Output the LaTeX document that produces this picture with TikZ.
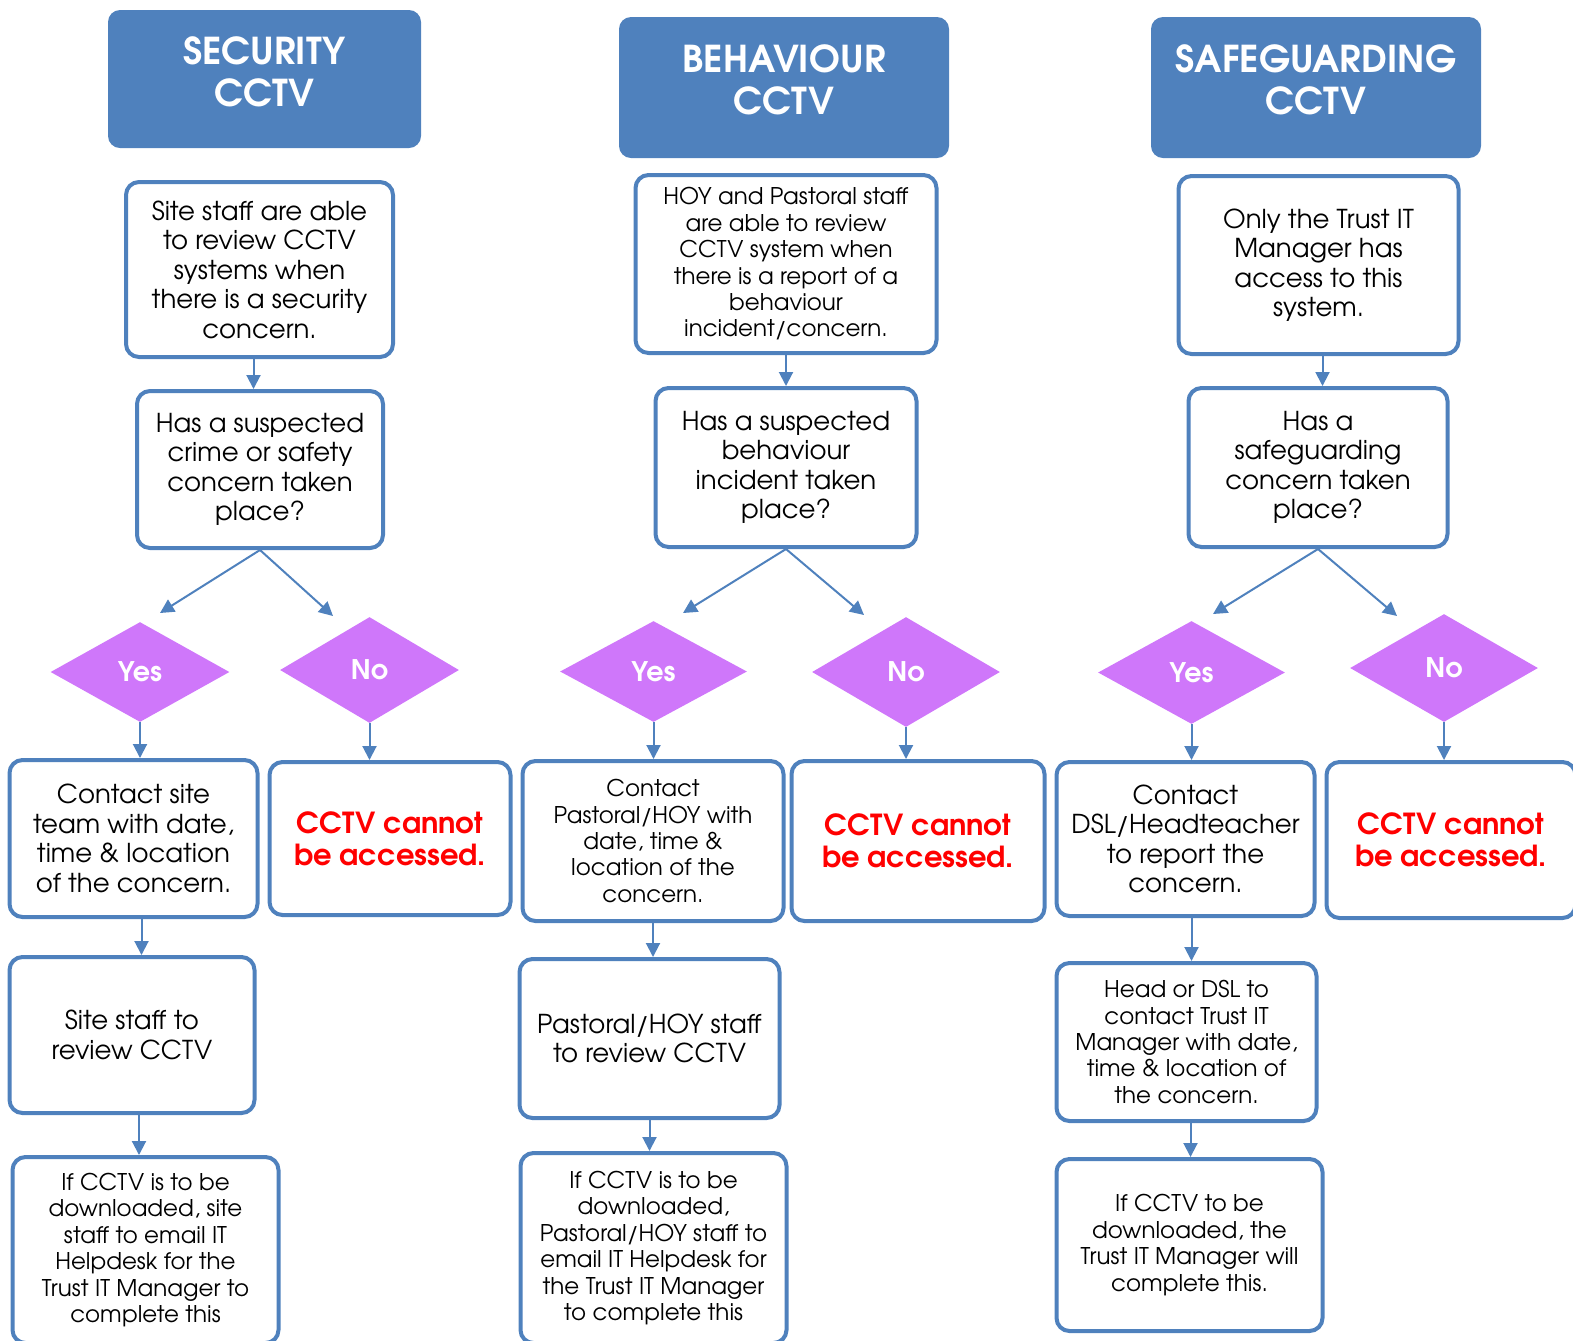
\documentclass[tikz,border=0pt]{standalone}
\usepackage{fontspec}
\setmainfont{TeX Gyre Adventor}
\usepackage{tikz}
\usetikzlibrary{arrows.meta,shapes.geometric,positioning}

\definecolor{hdblue}{RGB}{79,129,189}
\definecolor{ynpurple}{RGB}{207,119,250}
\newcommand\headfont{\fontsize{18.5}{21}\selectfont\bfseries}
\newcommand\boxfont{\fontsize{13}{14.75}\selectfont}
\newcommand\smallboxfont{\fontsize{11.5}{13.2}\selectfont}
\newcommand\ynfont{\fontsize{13.5}{15}\selectfont\bfseries}
\newcommand\stopfont{\fontsize{14.5}{16}\selectfont\bfseries}

\begin{document}
\begin{tikzpicture}[x=0.5pt, y=-0.5pt, >={Triangle[length=7pt,width=7pt]},
    head/.style={rectangle, fill=hdblue, rounded corners=6pt, text=white, font=\headfont, align=center, text depth=7.5pt},
    block/.style={rectangle, draw=hdblue, line width=2pt, fill=white, rounded corners=6.5pt, align=center, font=\boxfont, inner sep=2pt},
    small/.style={font=\smallboxfont},
    stop/.style={text=red, font=\stopfont},
    choice/.style={diamond, fill=ynpurple, text=white, font=\ynfont, inner sep=0pt},
    line/.style={draw=hdblue, line width=1pt, ->}]

    \useasboundingbox (0,0) rectangle (1573,1340);

    % security column
    \node [head, minimum width=156.5pt, minimum height=69pt] (sechd) at (264.5,79) {SECURITY\\CCTV};
    \node [block, minimum width=133.5pt, minimum height=87.5pt] (secrev) at (259.5,269.5) {Site staff are able\\to review CCTV\\systems when\\there is a security\\concern.};
    \node [block, minimum width=123pt, minimum height=78.5pt] (secq) at (260,469.5) {Has a suspected\\crime or safety\\concern taken\\place?};
    \node [choice, minimum width=89.5pt, minimum height=50pt] (secyes) at (140,672) {Yes};
    \node [choice, minimum width=89.5pt, minimum height=53pt] (secno) at (369.5,670) {No};
    \node [block, minimum width=124pt, minimum height=78.5pt] (seccall) at (133.5,838.5) {Contact site\\team with date,\\time \& location\\of the concern.};
    \node [block, stop, minimum width=120.5pt, minimum height=76.5pt] (secnot) at (390,838.5) {CCTV cannot\\be accessed.};
    \node [block, minimum width=122.5pt, minimum height=78pt] (secview) at (132,1035) {Site staff to\\review CCTV};
    \node [block, small, minimum width=133pt, minimum height=93pt] (secdl) at (145.5,1250) {If CCTV is to be\\downloaded, site\\staff to email IT\\Helpdesk for the\\Trust IT Manager to\\complete this};
    \coordinate (secyt) at (160,613);
    \coordinate (secnt) at (333,616);

    % behaviour column
    \node [head, minimum width=165pt, minimum height=70.5pt] (behhd) at (784,87.5) {BEHAVIOUR\\CCTV};
    \node [block, small, minimum width=150.5pt, minimum height=89pt] (behrev) at (786,264) {HOY and Pastoral staff\\are able to review\\CCTV system when\\there is a report of a\\behaviour\\incident/concern.};
    \node [block, minimum width=130.5pt, minimum height=79.5pt] (behq) at (786,467.5) {Has a suspected\\behaviour\\incident taken\\place?};
    \node [choice, minimum width=93.5pt, minimum height=50.5pt] (behyes) at (653.5,671.5) {Yes};
    \node [choice, minimum width=94pt, minimum height=55pt] (behno) at (906,672) {No};
    \node [block, small, minimum width=130.5pt, minimum height=80pt] (behcall) at (653,841) {Contact\\Pastoral/HOY with\\date, time \&\\location of the\\concern.};
    \node [block, stop, minimum width=126.5pt, minimum height=80pt] (behnot) at (918,841) {CCTV cannot\\be accessed.};
    \node [block, minimum width=130pt, minimum height=79.5pt] (behview) at (649.5,1038.5) {Pastoral/HOY staff\\to review CCTV};
    \node [block, small, minimum width=133pt, minimum height=95pt] (behdl) at (653.5,1248) {If CCTV is to be\\downloaded,\\Pastoral/HOY staff to\\email IT Helpdesk for\\the Trust IT Manager\\to complete this};
    \coordinate (behyt) at (683,613);
    \coordinate (behnt) at (864,615);

    % safeguarding column
    \node [head, minimum width=165pt, minimum height=70.5pt] (safehd) at (1316,87.5) {SAFEGUARDING\\CCTV};
    \node [block, minimum width=140pt, minimum height=89pt] (saferev) at (1318.5,265) {Only the Trust IT\\Manager has\\access to this\\system.};
    \node [block, minimum width=129.5pt, minimum height=79.5pt] (safeq) at (1318,467.5) {Has a\\safeguarding\\concern taken\\place?};
    \node [choice, minimum width=93.5pt, minimum height=51.5pt] (safeyes) at (1191.5,672.5) {Yes};
    \node [choice, minimum width=94pt, minimum height=54pt] (safeno) at (1444,668) {No};
    \node [block, minimum width=129pt, minimum height=77pt] (safecall) at (1185.5,839) {Contact\\DSL/Headteacher\\to report the\\concern.};
    \node [block, stop, minimum width=124.5pt, minimum height=78pt] (safenot) at (1451,840) {CCTV cannot\\be accessed.};
    \node [block, small, minimum width=130pt, minimum height=79pt] (safeview) at (1186.5,1042) {Head or DSL to\\contact Trust IT\\Manager with date,\\time \& location of\\the concern.};
    \node [block, small, minimum width=133pt, minimum height=86pt] (safedl) at (1189.5,1245) {If CCTV to be\\downloaded, the\\Trust IT Manager will\\complete this.};
    \coordinate (safeyt) at (1213,614);
    \coordinate (safent) at (1397,616);

    % connectors
    \path [line] ([xshift=-3pt]secrev.south) -- ([xshift=-3pt]secrev.south |- secq.north);
    \path [line] (secq.south) -- (secyt);
    \path [line] (secq.south) -- (secnt);
    \path [line] (secyes.south) -- (secyes.south |- seccall.north);
    \path [line] (secno.south) -- (secno.south |- secnot.north);
    \path [line] ([xshift=4pt]seccall.south) -- ([xshift=4pt]seccall.south |- secview.north);
    \path [line] ([xshift=3.5pt]secview.south) -- ([xshift=3.5pt]secview.south |- secdl.north);

    \path [line] (behrev.south) -- (behrev.south |- behq.north);
    \path [line] (behq.south) -- (behyt);
    \path [line] (behq.south) -- (behnt);
    \path [line] (behyes.south) -- (behyes.south |- behcall.north);
    \path [line] (behno.south) -- (behno.south |- behnot.north);
    \path [line] (behcall.south) -- (behcall.south |- behview.north);
    \path [line] (behview.south) -- (behview.south |- behdl.north);

    \path [line] ([xshift=2pt]saferev.south) -- ([xshift=2pt]saferev.south |- safeq.north);
    \path [line] (safeq.south) -- (safeyt);
    \path [line] (safeq.south) -- (safent);
    \path [line] (safeyes.south) -- (safeyes.south |- safecall.north);
    \path [line] (safeno.south) -- (safeno.south |- safenot.north);
    \path [line] ([xshift=3pt]safecall.south) -- ([xshift=3pt]safecall.south |- safeview.north);
    \path [line] ([xshift=2pt]safeview.south) -- ([xshift=2pt]safeview.south |- safedl.north);

\end{tikzpicture}
\end{document}
